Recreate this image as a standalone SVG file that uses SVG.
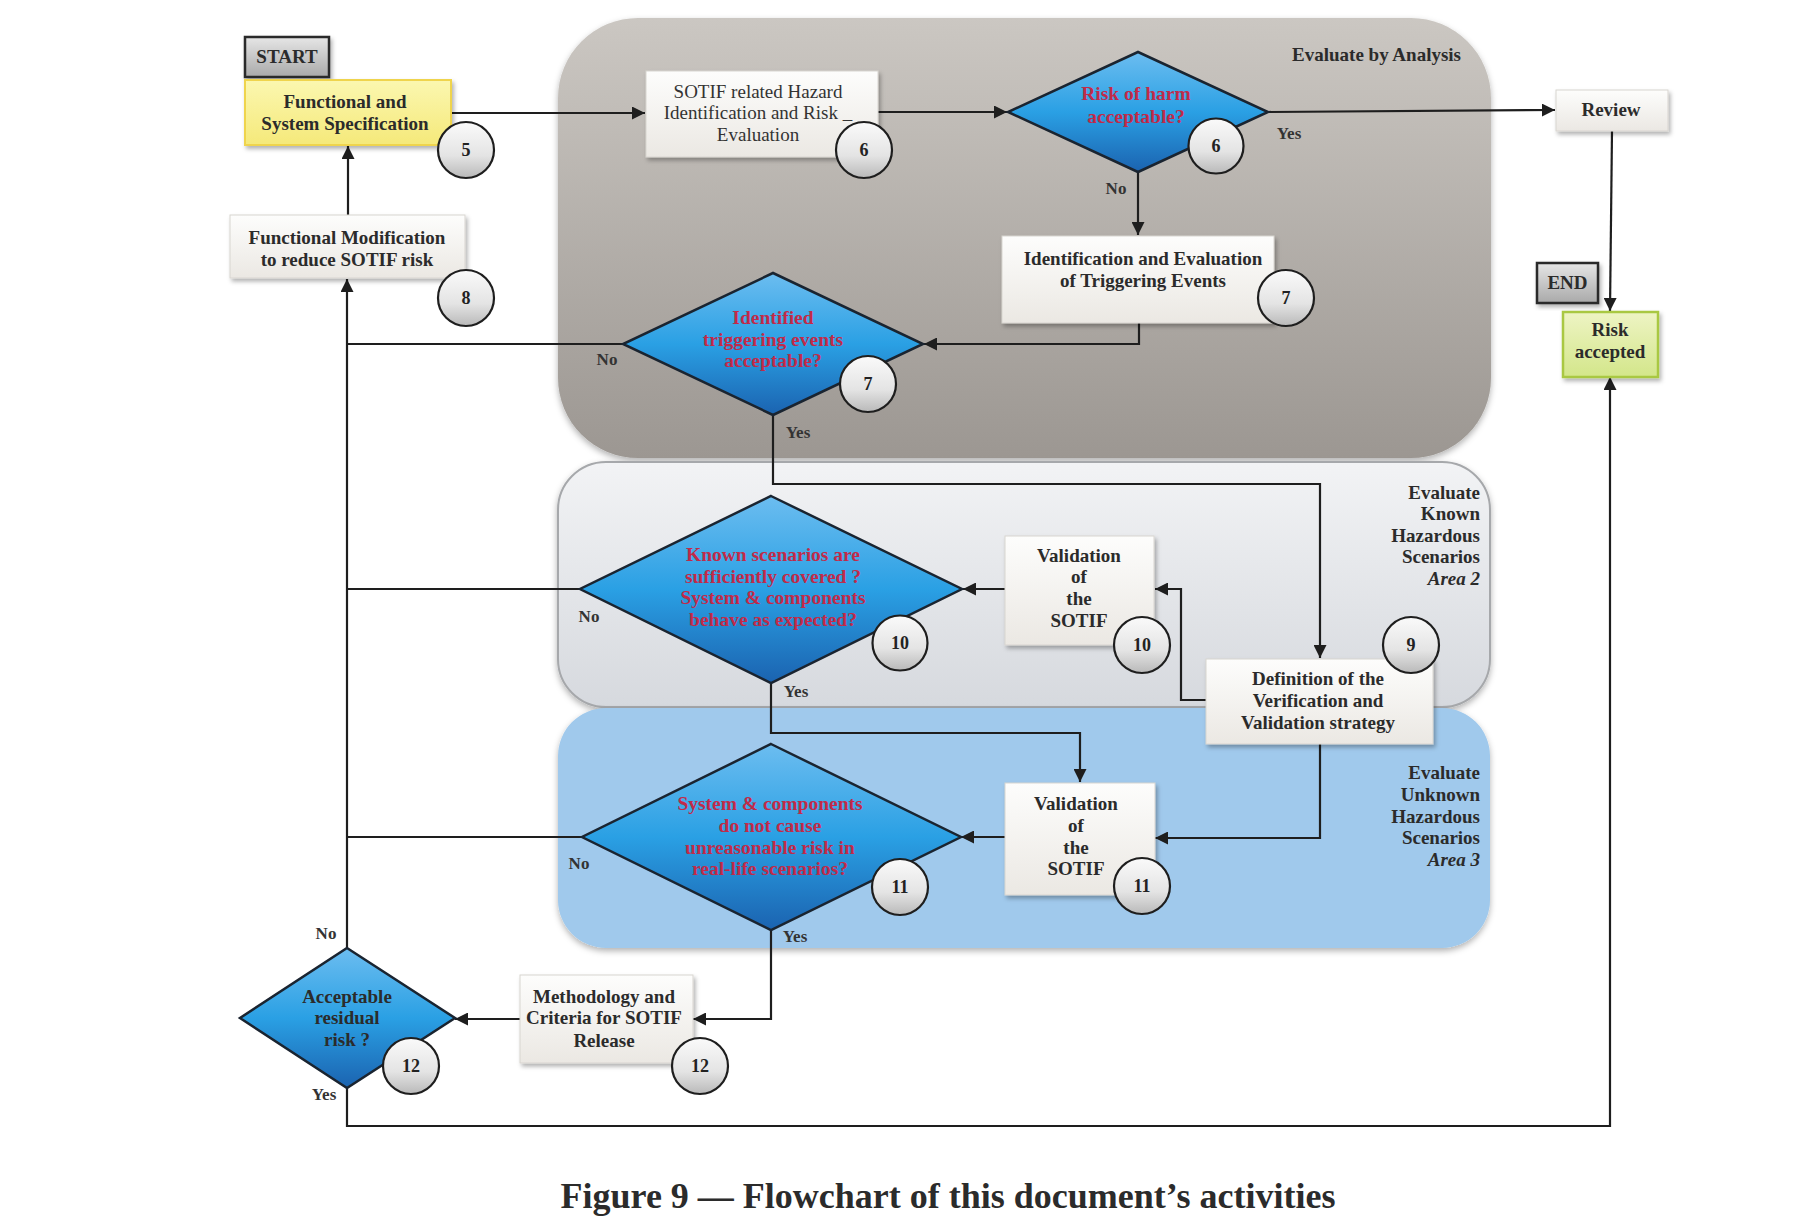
<svg xmlns="http://www.w3.org/2000/svg" width="1796" height="1226" viewBox="0 0 1796 1226">
<defs>
<linearGradient id="gArea1" x1="0" y1="0" x2="0" y2="1"><stop offset="0" stop-color="#cbc7c2"/><stop offset="1" stop-color="#9c9792"/></linearGradient>
<linearGradient id="gArea2" x1="0" y1="0" x2="0" y2="1"><stop offset="0" stop-color="#f2f3f5"/><stop offset="1" stop-color="#d6d9de"/></linearGradient>
<linearGradient id="gDia" x1="0" y1="0" x2="0" y2="1"><stop offset="0" stop-color="#6cbdf0"/><stop offset="0.5" stop-color="#2aa0e4"/><stop offset="1" stop-color="#1b63b0"/></linearGradient>
<linearGradient id="gCirc" x1="0" y1="0" x2="0" y2="1"><stop offset="0" stop-color="#fafafa"/><stop offset="0.6" stop-color="#e4e4e4"/><stop offset="1" stop-color="#b9b9b9"/></linearGradient>
<linearGradient id="gBox" x1="0" y1="0" x2="0" y2="1"><stop offset="0" stop-color="#fdfdfc"/><stop offset="1" stop-color="#ebe8e3"/></linearGradient>
<linearGradient id="gTerm" x1="0" y1="0" x2="0" y2="1"><stop offset="0" stop-color="#e6e6e6"/><stop offset="1" stop-color="#a9a9a9"/></linearGradient>
<linearGradient id="gYel" x1="0" y1="0" x2="0" y2="1"><stop offset="0" stop-color="#fbf7b0"/><stop offset="1" stop-color="#f5e97a"/></linearGradient>
<linearGradient id="gGrn" x1="0" y1="0" x2="0" y2="1"><stop offset="0" stop-color="#eef4c4"/><stop offset="1" stop-color="#d3e68a"/></linearGradient>
<filter id="sh" x="-20%" y="-20%" width="140%" height="140%"><feDropShadow dx="2" dy="3" stdDeviation="2" flood-color="#000" flood-opacity="0.3"/></filter>
<filter id="shA" x="-5%" y="-5%" width="110%" height="110%"><feDropShadow dx="0" dy="3" stdDeviation="3" flood-color="#000" flood-opacity="0.3"/></filter>
<marker id="ar" viewBox="0 0 10 10" refX="10" refY="5" markerWidth="13" markerHeight="13" markerUnits="userSpaceOnUse" orient="auto"><path d="M0,0 L10,5 L0,10 z" fill="#1e1e1e"/></marker>
</defs>
<style>
text{font-family:"Liberation Serif","Times New Roman",serif;font-weight:bold;fill:#2b2b2b;}
.t{font-size:19px;text-anchor:middle;}
.r{font-size:19.5px;text-anchor:middle;fill:#c12a49;}
.n{font-size:18px;text-anchor:middle;fill:#222;}
.l{font-size:17px;text-anchor:middle;fill:#333;}
.a{font-size:19px;text-anchor:end;fill:#2b2b2b;}
.reg{font-weight:normal;fill:#333;}
.box{fill:url(#gBox);stroke:#d8d5d0;stroke-width:1;filter:url(#sh);}
.dia{fill:url(#gDia);stroke:#1a2430;stroke-width:2.5;stroke-linejoin:miter;}
.circ{fill:url(#gCirc);stroke:#1e1e1e;stroke-width:2.2;}
.term{fill:url(#gTerm);stroke:#2a2a2a;stroke-width:2.5;filter:url(#sh);}
.c{fill:none;stroke:#1e1e1e;stroke-width:2.2;}
</style>
<rect width="1796" height="1226" fill="#ffffff"/>

<g id="area-analysis"><rect x="558" y="18" width="933" height="440" rx="80" fill="url(#gArea1)" filter="url(#shA)"/><text class="a" x="1461" y="61">Evaluate by Analysis</text></g>
<g id="area-known"><rect x="558" y="462" width="932" height="245" rx="48" fill="url(#gArea2)" stroke="#a6a8ab" stroke-width="2" filter="url(#shA)"/>
<text class="a" x="1480" y="499">Evaluate</text><text class="a" x="1480" y="520">Known</text><text class="a" x="1480" y="542">Hazardous</text><text class="a" x="1480" y="563">Scenarios</text><text class="a" x="1480" y="585" font-style="italic">Area 2</text></g>
<g id="area-unknown"><rect x="558" y="708" width="932" height="240" rx="48" fill="#a0c9ec" filter="url(#shA)"/>
<text class="a" x="1480" y="779">Evaluate</text><text class="a" x="1480" y="801">Unknown</text><text class="a" x="1480" y="823">Hazardous</text><text class="a" x="1480" y="844">Scenarios</text><text class="a" x="1480" y="866" font-style="italic">Area 3</text></g>

<g id="connectors">
<path class="c" d="M451,113 L645,113" marker-end="url(#ar)"/>
<path class="c" d="M878,112 L1007,112" marker-end="url(#ar)"/>
<path class="c" d="M1268,112 L1555,110" marker-end="url(#ar)"/>
<path class="c" d="M1138,172 L1138,235" marker-end="url(#ar)"/>
<path class="c" d="M1139,323 L1139,344 L924,344" marker-end="url(#ar)"/>
<path class="c" d="M623,344 L347,344"/>
<path class="c" d="M773,415 L773,484 L1320,484 L1320,658" marker-end="url(#ar)"/>
<path class="c" d="M1206,700 L1181,700 L1181,589 L1155,589" marker-end="url(#ar)"/>
<path class="c" d="M1005,589 L963,589" marker-end="url(#ar)"/>
<path class="c" d="M580,589 L347,589"/>
<path class="c" d="M771,683 L771,733 L1080,733 L1080,782" marker-end="url(#ar)"/>
<path class="c" d="M1320,744 L1320,838 L1155,838" marker-end="url(#ar)"/>
<path class="c" d="M1005,837 L961,837" marker-end="url(#ar)"/>
<path class="c" d="M582,837 L347,837"/>
<path class="c" d="M771,930 L771,1019 L693,1019" marker-end="url(#ar)"/>
<path class="c" d="M520,1019 L455,1019" marker-end="url(#ar)"/>
<path class="c" d="M347,948 L347,279" marker-end="url(#ar)"/>
<path class="c" d="M348,215 L348,146" marker-end="url(#ar)"/>
<path class="c" d="M347,1088 L347,1126 L1610,1126 L1610,377" marker-end="url(#ar)"/>
<path class="c" d="M1612,131 L1610,311" marker-end="url(#ar)"/>
<text class="l" x="1289" y="139">Yes</text>
<text class="l" x="1116" y="194">No</text>
<text class="l" x="607" y="365">No</text>
<text class="l" x="798" y="438">Yes</text>
<text class="l" x="589" y="622">No</text>
<text class="l" x="796" y="697">Yes</text>
<text class="l" x="579" y="869">No</text>
<text class="l" x="795" y="942">Yes</text>
<text class="l" x="326" y="939">No</text>
<text class="l" x="324" y="1100">Yes</text>
</g>

<g id="start"><rect class="term" x="245" y="37" width="84" height="40"/><text class="t" x="287" y="63" font-size="18">START</text></g>
<g id="spec"><rect x="245" y="80" width="206" height="65" fill="url(#gYel)" stroke="#efd44e" stroke-width="2" filter="url(#sh)"/>
<text class="t" x="345" y="108">Functional and</text><text class="t" x="345" y="130">System Specification</text>
<circle class="circ" cx="466" cy="150" r="28"/><text class="n" x="466" y="156">5</text></g>

<g id="hazard"><rect class="box" x="646" y="71" width="232" height="86"/>
<text class="t reg" x="758" y="98">SOTIF related Hazard</text><text class="t reg" x="758" y="119">Identification and Risk _</text><text class="t reg" x="758" y="141">Evaluation</text>
<circle class="circ" cx="864" cy="150" r="28"/><text class="n" x="864" y="156">6</text></g>

<g id="risk-harm"><polygon class="dia" points="1138,52 1268,112 1138,172 1008,112"/>
<text class="r" x="1136" y="100">Risk of harm</text><text class="r" x="1136" y="123">acceptable?</text>
<circle class="circ" cx="1216" cy="146" r="27.5"/><text class="n" x="1216" y="152">6</text></g>

<g id="review"><rect class="box" x="1556" y="90" width="112" height="41"/><text class="t" x="1611" y="116">Review</text></g>

<g id="triggering"><rect class="box" x="1002" y="236" width="272" height="87"/>
<text class="t" x="1143" y="265">Identification and Evaluation</text><text class="t" x="1143" y="287">of Triggering Events</text>
<circle class="circ" cx="1286" cy="298" r="28"/><text class="n" x="1286" y="304">7</text></g>

<g id="end"><rect class="term" x="1537" y="263" width="61" height="40"/><text class="t" x="1567.5" y="289" font-size="18">END</text></g>
<g id="accepted"><rect x="1563" y="312" width="95" height="65" fill="url(#gGrn)" stroke="#a9c843" stroke-width="2.5" filter="url(#sh)"/>
<text class="t" x="1610" y="336">Risk</text><text class="t" x="1610" y="358">accepted</text></g>

<g id="modification"><rect class="box" x="230" y="215" width="235" height="63"/>
<text class="t" x="347" y="244">Functional Modification</text><text class="t" x="347" y="266">to reduce SOTIF risk</text>
<circle class="circ" cx="466" cy="298" r="28"/><text class="n" x="466" y="304">8</text></g>

<g id="trig-accept"><polygon class="dia" points="773,273 923,344 773,415 623,344"/>
<text class="r" x="773" y="324">Identified</text><text class="r" x="773" y="346">triggering events</text><text class="r" x="773" y="367">acceptable?</text>
<circle class="circ" cx="868" cy="384" r="28"/><text class="n" x="868" y="390">7</text></g>

<g id="known"><polygon class="dia" points="771,496 962,589 771,683 580,589"/>
<text class="r" x="773" y="561">Known scenarios are</text><text class="r" x="773" y="583">sufficiently covered ?</text><text class="r" x="773" y="604">System &amp; components</text><text class="r" x="773" y="626">behave as expected?</text>
<circle class="circ" cx="900" cy="643" r="27.5"/><text class="n" x="900" y="649">10</text></g>

<g id="validation10"><rect class="box" x="1005" y="536" width="149" height="109"/>
<text class="t" x="1079" y="562">Validation</text><text class="t" x="1079" y="583">of</text><text class="t" x="1079" y="605">the</text><text class="t" x="1079" y="627">SOTIF</text>
<circle class="circ" cx="1142" cy="645" r="28"/><text class="n" x="1142" y="651">10</text></g>

<g id="strategy"><rect class="box" x="1206" y="659" width="227" height="85"/>
<text class="t" x="1318" y="685">Definition of the</text><text class="t" x="1318" y="707">Verification and</text><text class="t" x="1318" y="729">Validation strategy</text>
<circle class="circ" cx="1411" cy="645" r="28"/><text class="n" x="1411" y="651">9</text></g>

<g id="unknown"><polygon class="dia" points="771,744 961,837 771,930 582,837"/>
<text class="r" x="770" y="810">System &amp; components</text><text class="r" x="770" y="832">do not cause</text><text class="r" x="770" y="854">unreasonable risk in</text><text class="r" x="770" y="875">real-life scenarios?</text>
<circle class="circ" cx="900" cy="887" r="28"/><text class="n" x="900" y="893">11</text></g>

<g id="validation11"><rect class="box" x="1005" y="783" width="150" height="112"/>
<text class="t" x="1076" y="810">Validation</text><text class="t" x="1076" y="832">of</text><text class="t" x="1076" y="854">the</text><text class="t" x="1076" y="875">SOTIF</text>
<circle class="circ" cx="1142" cy="886" r="28"/><text class="n" x="1142" y="892">11</text></g>

<g id="methodology"><rect class="box" x="520" y="975" width="173" height="88"/>
<text class="t" x="604" y="1003">Methodology and</text><text class="t" x="604" y="1024">Criteria for SOTIF</text><text class="t" x="604" y="1047">Release</text>
<circle class="circ" cx="700" cy="1066" r="28"/><text class="n" x="700" y="1072">12</text></g>

<g id="residual"><polygon class="dia" points="347,948 455,1018 347,1088 240,1018"/>
<text class="t" x="347" y="1003">Acceptable</text><text class="t" x="347" y="1024">residual</text><text class="t" x="347" y="1046">risk ?</text>
<circle class="circ" cx="411" cy="1066" r="28"/><text class="n" x="411" y="1072">12</text></g>

<text x="948" y="1208" font-size="36" text-anchor="middle" fill="#333">Figure 9 — Flowchart of this document’s activities</text>
</svg>
